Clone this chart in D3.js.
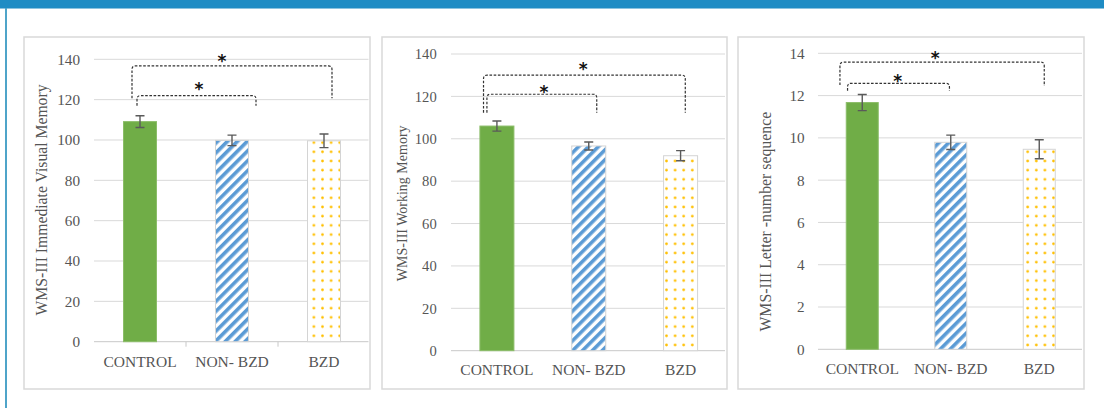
<!DOCTYPE html>
<html>
<head>
<meta charset="utf-8">
<script src="https://cdn.jsdelivr.net/npm/d3@7"></script>
<style>
  html, body { margin: 0; padding: 0; background: #ffffff; }
  svg { display: block; }
  svg text.serif { font-family: "Liberation Serif", "Times New Roman", Times, serif; }
  svg text.star { font-family: "DejaVu Sans", sans-serif; font-weight: bold; }
</style>
</head>
<body>
<svg id="fig" width="1104" height="408"></svg>
<script>
// ---- data ----
const categories = ["CONTROL", "NON- BZD", "BZD"];

const visualMemory = [109.1, 99.8, 99.6];
const visualMemoryErr = [2.9, 2.6, 3.4];

const workingMemory = [106.0, 96.6, 92.0];
const workingMemoryErr = [2.4, 1.9, 2.4];

const letterNumber = [11.67, 9.79, 9.46];
const letterNumberErr = [0.38, 0.34, 0.45];

const ticksHundreds = [0, 20, 40, 60, 80, 100, 120, 140];
const ticksSmall = [0, 2, 4, 6, 8, 10, 12, 14];

// significance brackets (group indices, heights in axis units)
const bracketsVisual = [
  { from: 0, to: 2, top: 136.7, legL: 120.7, legR: 120.7, star: 140.8 },
  { from: 0, to: 1, top: 122.0, legL: 117.0, legR: 117.0, star: 126.8 }
];
const bracketsWorking = [
  { from: 0, to: 2, top: 130.0, legL: 112.3, legR: 112.3, star: 134.4 },
  { from: 0, to: 1, top: 121.0, legL: 112.3, legR: 112.3, star: 123.8 }
];
const bracketsLetter = [
  { from: 0, to: 2, top: 13.58, legL: 12.50, legR: 12.45, star: 13.95 },
  { from: 0, to: 1, top: 12.58, legL: 12.23, legR: 12.23, star: 12.85 }
];

// ---- layout of the three panels ----
const panels = [
  {
    values: visualMemory, errs: visualMemoryErr, ticks: ticksHundreds, max: 140,
    title: "WMS-III Immediate Visual Memory", titleSize: 15.7, titleX: 41.7, titleY: 200,
    box: [24, 37, 370, 389], x0: 94, x1: 370, y0: 341.7, y1: 59.3,
    tickX: 80, tickSize: 15.2, catY: 361.7, barW: 33, catTicks: true,
    brackets: bracketsVisual,
    bx: [[-8, 8, -10], [-3, 24, 2.5]]
  },
  {
    values: workingMemory, errs: workingMemoryErr, ticks: ticksHundreds, max: 140,
    title: "WMS-III Working Memory", titleSize: 14, titleX: 401.7, titleY: 203.3,
    box: [382, 37, 727, 389], x0: 451, x1: 726.5, y0: 350.7, y1: 54,
    tickX: 436.7, tickSize: 14.6, catY: 370, barW: 34, catTicks: false,
    brackets: bracketsWorking,
    bx: [[-13.4, 4.7, -1.3], [-10, 8, 2]]
  },
  {
    values: letterNumber, errs: letterNumberErr, ticks: ticksSmall, max: 14,
    title: "WMS-III Letter -number sequence", titleSize: 15.8, titleX: 765.7, titleY: 221.7,
    box: [738, 37, 1084, 389], x0: 818, x1: 1083.5, y0: 349.3, y1: 53.3,
    tickX: 804.7, tickSize: 15.2, catY: 368.3, barW: 32, catTicks: false,
    brackets: bracketsLetter,
    bx: [[-22.3, 5, -7], [-14.7, -1.3, -0.7]]
  }
];

const svg = d3.select("#fig");
const TEXT = "#555555";

// page frame
svg.append("rect").attr("x", 0).attr("y", 0).attr("width", 1104).attr("height", 8).attr("fill", "#1f8cc4");
svg.append("rect").attr("x", 0).attr("y", 8).attr("width", 1104).attr("height", 1).attr("fill", "#8cc3df");
svg.append("rect").attr("x", 5).attr("y", 8).attr("width", 2).attr("height", 400).attr("fill", "#4fa4c9");

// fill patterns
const defs = svg.append("defs");
const hatch = defs.append("pattern")
  .attr("id", "hatch").attr("patternUnits", "userSpaceOnUse")
  .attr("width", 7).attr("height", 7)
  .attr("patternTransform", "rotate(45)");
hatch.append("rect").attr("width", 7).attr("height", 7).attr("fill", "#ffffff");
hatch.append("rect").attr("x", 0).attr("y", 0).attr("width", 3.6).attr("height", 7).attr("fill", "#5b9bd5");

const dots = defs.append("pattern")
  .attr("id", "dots").attr("patternUnits", "userSpaceOnUse")
  .attr("width", 8.6).attr("height", 9.2);
dots.append("rect").attr("width", 8.6).attr("height", 9.2).attr("fill", "#ffffff");
dots.append("circle").attr("cx", 4.3).attr("cy", 4.6).attr("r", 1.35).attr("fill", "#ffc000");

const fills = ["#70ad47", "url(#hatch)", "url(#dots)"];
const strokes = ["#8bbd68", "#d4d4d4", "#d4d4d4"];

panels.forEach(p => {
  const g = svg.append("g");

  // chart frame
  g.append("rect")
    .attr("x", p.box[0]).attr("y", p.box[1])
    .attr("width", p.box[2] - p.box[0]).attr("height", p.box[3] - p.box[1])
    .attr("fill", "#ffffff").attr("stroke", "#d9d9d9").attr("stroke-width", 1.5);

  const x = d3.scaleBand().domain(categories).range([p.x0, p.x1]).padding(0);
  const y = d3.scaleLinear().domain([0, p.max]).range([p.y0, p.y1]);

  // gridlines
  g.append("g").selectAll("line").data(p.ticks.slice(1)).join("line")
    .attr("x1", p.x0).attr("x2", p.x1 - 1.5)
    .attr("y1", d => y(d)).attr("y2", d => y(d))
    .attr("stroke", "#d9d9d9").attr("stroke-width", 1);

  // y axis labels
  const yAxis = d3.axisLeft(y).tickValues(p.ticks).tickSize(0).tickPadding(0);
  const ya = g.append("g").attr("transform", `translate(${p.tickX},0)`).call(yAxis);
  ya.attr("font-family", null);
  ya.select(".domain").remove();
  ya.selectAll("text").attr("class", "serif")
    .attr("font-size", p.tickSize).attr("fill", TEXT);

  // baseline + category axis
  const xAxis = d3.axisBottom(x).tickSize(0).tickPadding(0);
  const xa = g.append("g").attr("transform", `translate(0,${p.y0})`).call(xAxis);
  xa.attr("font-family", null);
  xa.select(".domain").attr("stroke", "#c8c8c8").attr("stroke-width", 1)
    .attr("d", `M${p.x0},0H${p.x1 - 1.5}`);
  xa.selectAll("text").attr("class", "serif")
    .attr("font-size", 15.5).attr("fill", TEXT)
    .attr("y", p.catY - p.y0).attr("dy", "0.35em");
  if (p.catTicks) {
    g.append("g").selectAll("line").data(categories.slice(1)).join("line")
      .attr("x1", d => x(d)).attr("x2", d => x(d))
      .attr("y1", p.y0).attr("y2", p.y0 + 5)
      .attr("stroke", "#c8c8c8").attr("stroke-width", 1);
  }

  // axis title
  g.append("text").attr("class", "serif")
    .attr("transform", `translate(${p.titleX},${p.titleY}) rotate(-90)`)
    .attr("text-anchor", "middle").attr("dy", "0.35em")
    .attr("font-size", p.titleSize).attr("fill", TEXT)
    .text(p.title);

  // bars
  const cx = i => x(categories[i]) + x.bandwidth() / 2;
  g.append("g").selectAll("rect").data(p.values).join("rect")
    .attr("x", (d, i) => cx(i) - p.barW / 2)
    .attr("y", d => y(d))
    .attr("width", p.barW)
    .attr("height", d => y(0) - y(d))
    .attr("fill", (d, i) => fills[i])
    .attr("stroke", (d, i) => strokes[i]).attr("stroke-width", 1);

  // error bars
  const eb = g.append("g").attr("stroke", "#5a5a5a").attr("stroke-width", 1.4).attr("fill", "none");
  p.values.forEach((v, i) => {
    const e = p.errs[i], c = cx(i);
    eb.append("path").attr("d",
      `M${c},${y(v + e)}V${y(v - e)}M${c - 4.5},${y(v + e)}H${c + 4.5}M${c - 4.5},${y(v - e)}H${c + 4.5}`);
  });

  // significance brackets
  p.brackets.forEach((b, k) => {
    const [dl, dr, ds] = p.bx[k];
    const xl = cx(b.from) + dl, xr = cx(b.to) + dr;
    const yt = y(b.top), r = 3.5;
    const path = d3.path();
    path.moveTo(xl, y(b.legL));
    path.lineTo(xl, yt + r);
    path.quadraticCurveTo(xl, yt, xl + r, yt);
    path.lineTo(xr - r, yt);
    path.quadraticCurveTo(xr, yt, xr, yt + r);
    path.lineTo(xr, y(b.legR));
    g.append("path").attr("d", path.toString())
      .attr("fill", "none").attr("stroke", "#333333").attr("stroke-width", 1.2)
      .attr("stroke-dasharray", "2.6,1.6");
    g.append("text").attr("class", "star")
      .attr("x", (xl + xr) / 2 + ds).attr("y", y(b.star))
      .attr("text-anchor", "middle").attr("dy", "0.56em")
      .attr("font-size", 17).attr("fill", "#111111")
      .text("*");
  });
});
</script>
</body>
</html>
